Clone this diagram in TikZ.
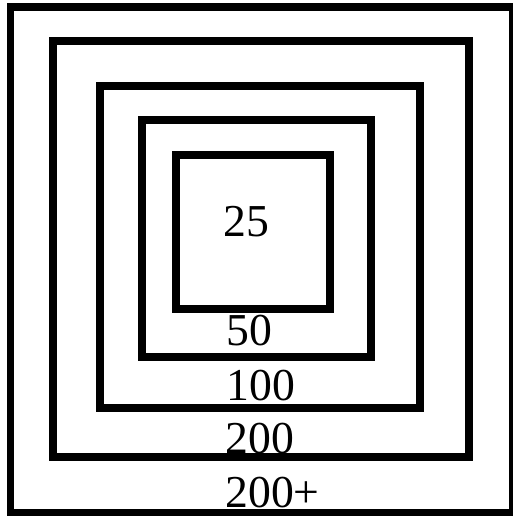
\documentclass[tikz,border=0pt]{standalone}
\usepackage{fontspec}
\setmainfont{Liberation Serif}
\usepackage{tikz}
\usetikzlibrary{positioning}
\tikzset{
  ring/.style={draw=black, line width=0.16cm},
  ringlabel/.style={anchor=base west, inner sep=0pt, font=\fontsize{26}{30}\selectfont}
}

\begin{document}
\begin{tikzpicture}[x=0.02cm, y=-0.02cm]
  \useasboundingbox (0,0) rectangle (512,516);

  % Squares
  \draw[ring] (10.5,7) rectangle (513,513);
  \draw[ring] (53,41.5) rectangle (469,457);
  \draw[ring] (100,86) rectangle (420,407.5);
  \draw[ring] (141.5,120) rectangle (371,357);
  \draw[ring] (175.5,155.5) rectangle (329.5,309);

  % Labels
  \node[ringlabel] (l25) at (223,237) {25};
  \node[ringlabel] (l50) at (226,345) {50};
  \node[ringlabel] (l100) at (226,400) {100};
  \node[ringlabel] (l200) at (225,453) {200};
  \node[ringlabel] (l200p) at (225,507) {200+};
\end{tikzpicture}
\end{document}
